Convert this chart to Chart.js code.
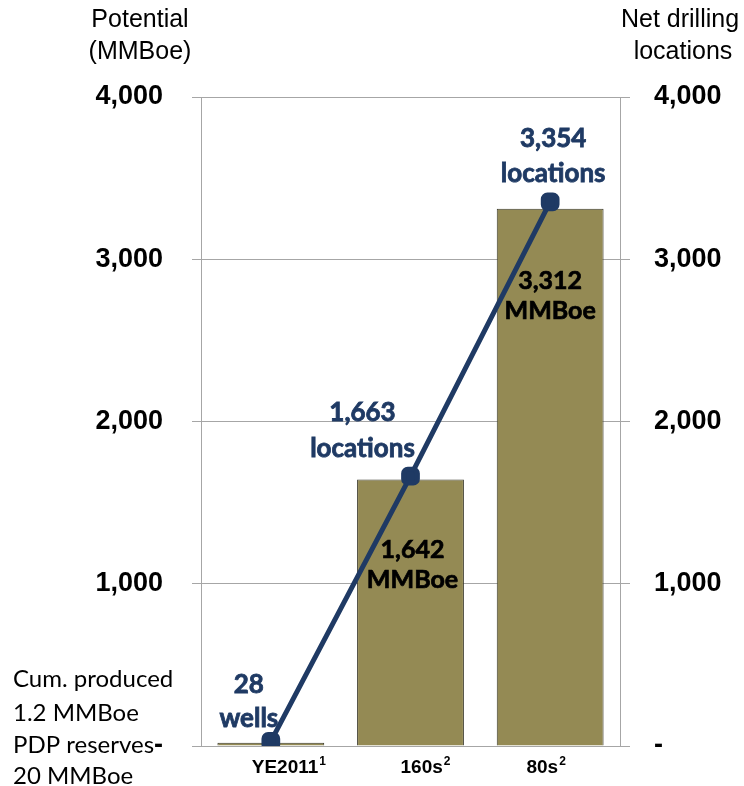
<!DOCTYPE html>
<html>
<head>
<meta charset="utf-8">
<script src="https://cdn.jsdelivr.net/npm/chart.js@4"></script>
<style>
  html, body { margin: 0; padding: 0; background: #fff; }
  #wrap { width: 744px; height: 786px; }
</style>
</head>
<body>
<div id="wrap"><canvas id="chart" width="744" height="786"></canvas></div>
<script>
// Data
const categories = ['YE2011', '160s', '80s'];
const categoryNotes = ['1', '2', '2'];
const reservesMMBoe = [20, 1642, 3312];
const netLocations = [28, 1663, 3354];
const locationUnits = ['wells', 'locations', 'locations'];
const showBarLabel = [false, true, true];
const axisTicks = [0, 1000, 2000, 3000, 4000];
const leftTitle = ['Potential', '(MMBoe)'];
const rightTitle = ['Net drilling', 'locations'];
const sideNotes = ['Cum. produced', '1.2 MMBoe', 'PDP reserves', '20 MMBoe'];

const colors = {
    bar: '#948A54',
    barEdge: '#3b3a2c',
    line: '#1F3A64',
    grid: '#a6a6a6',
    text: '#000000'
};

const labelFont = "Lato, 'Open Sans', sans-serif";
const axisFont = "'Liberation Sans', Arial, sans-serif";

// label offsets (px) relative to the point / bar top / category centre
const lineLabelOffset = [[-22, -57, -23], [-48, -64, -28], [3, -63, -28]];
const barLabelOffset = [[0, 70, 100], [2, 70, 100], [0, 72, 102]];
const categoryOffset = [18, 15, -4];

const fmt = v => v.toLocaleString('en-US');

function boldText(ctx, t, x, y) {
    ctx.fillText(t, x, y);
    ctx.strokeText(t, x, y);
}

const annotations = {
    id: 'annotations',
    afterDatasetDraw(chart, args) {
        const ctx = chart.ctx;
        if (args.index === 0) {
            // bar value labels
            const meta = chart.getDatasetMeta(0);
            ctx.save();
            ctx.fillStyle = colors.text;
            ctx.strokeStyle = colors.text;
            ctx.lineWidth = 0.7;
            ctx.font = `bold 25px ${labelFont}`;
            ctx.textAlign = 'center';
            ctx.textBaseline = 'middle';
            meta.data.forEach((el, i) => {
                if (!showBarLabel[i]) return;
                const o = barLabelOffset[i];
                boldText(ctx, fmt(reservesMMBoe[i]), el.x + o[0], el.y + o[1]);
                boldText(ctx, 'MMBoe', el.x + o[0], el.y + o[2]);
            });
            ctx.restore();
        }
    },
    afterDraw(chart) {
        const ctx = chart.ctx;
        const meta = chart.getDatasetMeta(1);
        ctx.save();
        ctx.fillStyle = colors.line;
        ctx.strokeStyle = colors.line;
        ctx.lineWidth = 0.8;
        ctx.font = `bold 26px ${labelFont}`;
        ctx.textAlign = 'center';
        ctx.textBaseline = 'middle';
        meta.data.forEach((el, i) => {
            const o = lineLabelOffset[i];
            boldText(ctx, fmt(netLocations[i]), el.x + o[0], el.y + o[1]);
            boldText(ctx, locationUnits[i], el.x + o[0], el.y + o[2]);
        });

        // category labels with superscript notes
        const xs = chart.scales.x;
        const base = chart.chartArea.bottom + 27;
        ctx.fillStyle = colors.text;
        ctx.textBaseline = 'alphabetic';
        ctx.textAlign = 'left';
        categories.forEach((c, i) => {
            ctx.font = `bold 19px ${axisFont}`;
            const w1 = ctx.measureText(c).width;
            ctx.font = `bold 12px ${axisFont}`;
            const w2 = ctx.measureText(categoryNotes[i]).width;
            const x0 = xs.getPixelForValue(i) + categoryOffset[i] - (w1 + w2 + 1) / 2;
            ctx.font = `bold 19px ${axisFont}`;
            ctx.fillText(c, x0, base);
            ctx.font = `bold 12px ${axisFont}`;
            ctx.fillText(categoryNotes[i], x0 + w1 + 1, base - 8);
        });

        // axis titles
        ctx.textAlign = 'center';
        ctx.textBaseline = 'middle';
        ctx.font = `25px ${axisFont}`;
        ctx.fillText(leftTitle[0], 140, 20);
        ctx.fillText(leftTitle[1], 140, 52);
        ctx.fillText(rightTitle[0], 680, 20);
        ctx.fillText(rightTitle[1], 683, 52);

        // side notes
        ctx.textAlign = 'left';
        ctx.font = `24px ${labelFont}`;
        const ys = [679, 713, 745, 776];
        sideNotes.forEach((t, i) => ctx.fillText(t, 13, ys[i]));
        ctx.restore();
    }
};

new Chart(document.getElementById('chart'), {
    type: 'bar',
    data: {
        labels: categories,
        datasets: [
            {
                label: 'Potential (MMBoe)',
                data: reservesMMBoe,
                backgroundColor: colors.bar,
                borderColor: colors.barEdge,
                borderWidth: 1,
                categoryPercentage: 1,
                barPercentage: 0.765,
                yAxisID: 'y',
                order: 1
            },
            {
                type: 'line',
                label: 'Net drilling locations',
                data: netLocations,
                borderColor: colors.line,
                borderWidth: 5,
                pointStyle: 'rectRounded',
                pointRadius: 8,
                pointBackgroundColor: colors.line,
                pointBorderColor: colors.line,
                tension: 0,
                yAxisID: 'y1',
                order: 0
            }
        ]
    },
    options: {
        responsive: false,
        devicePixelRatio: 1,
        animation: false,
        layout: { padding: { top: 97, left: 0, right: 0, bottom: 0 } },
        plugins: {
            legend: { display: false },
            tooltip: { enabled: false }
        },
        scales: {
            x: {
                grid: { display: false },
                border: { display: false },
                ticks: { display: false },
                afterFit: s => { s.height = 40; }
            },
            y: {
                position: 'left',
                min: 0,
                max: 4000,
                afterBuildTicks: s => { s.ticks = axisTicks.map(v => ({ value: v })); },
                grid: { color: colors.grid, lineWidth: 1, tickLength: 9 },
                border: { display: true, color: colors.grid },
                ticks: {
                    color: colors.text,
                    font: { family: axisFont, size: 27, weight: 'bold' },
                    padding: 29,
                    callback: v => v === 0 ? '-' : fmt(v)
                },
                afterFit: s => { s.width = 201; s.paddingTop = 0; s.paddingBottom = 0; }
            },
            y1: {
                position: 'right',
                min: 0,
                max: 4000,
                afterBuildTicks: s => { s.ticks = axisTicks.map(v => ({ value: v })); },
                grid: { drawOnChartArea: false, color: colors.grid, tickLength: 10 },
                border: { display: true, color: colors.grid },
                ticks: {
                    color: colors.text,
                    font: { family: axisFont, size: 27, weight: 'bold' },
                    padding: 24,
                    callback: v => v === 0 ? '-' : fmt(v)
                },
                afterFit: s => { s.width = 124; s.paddingTop = 0; s.paddingBottom = 0; }
            }
        }
    },
    plugins: [annotations]
});
</script>
</body>
</html>
